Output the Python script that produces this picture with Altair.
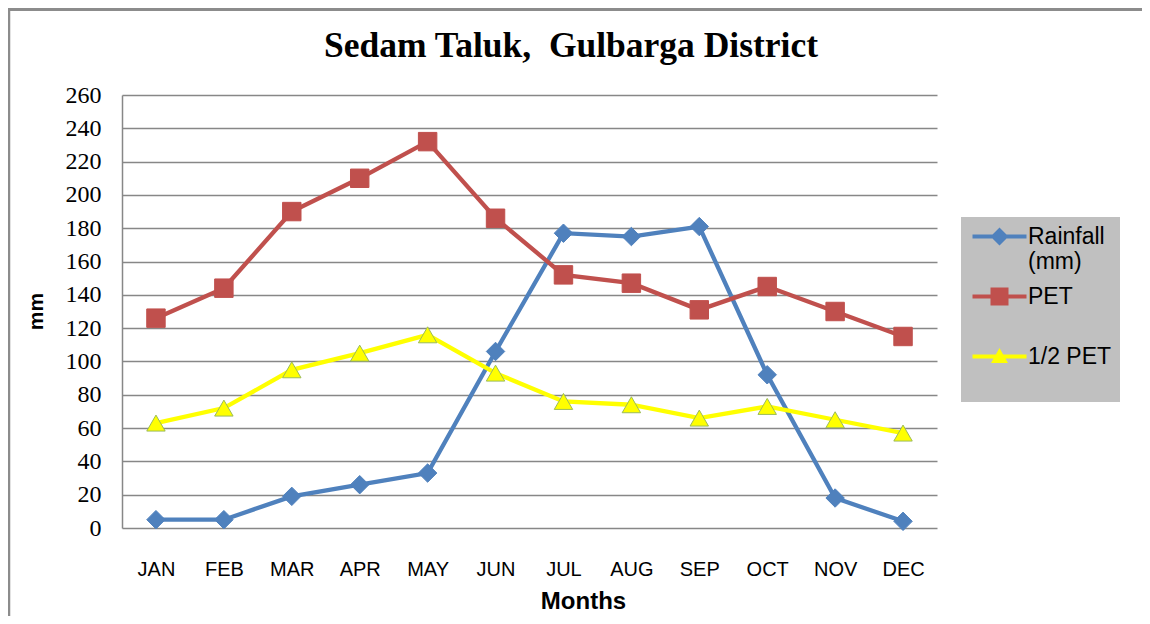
import altair as alt
import pandas as pd

# ---- data ----
title_text = ["Sedam Taluk,\u00a0 Gulbarga District"]
months = ["JAN", "FEB", "MAR", "APR", "MAY", "JUN", "JUL", "AUG", "SEP", "OCT", "NOV", "DEC"]
rainfall = [5, 5, 19, 26, 33, 106, 177, 175, 181, 92, 18, 4]
pet = [126, 144, 190, 210, 232, 186, 152, 147, 131, 145, 130, 115]
half_pet = [63, 72, 95, 105, 116, 93, 76, 74, 66, 73, 65, 57]
series_names = ["Rainfall (mm)", "PET", "1/2 PET"]
y_ticks = [0, 20, 40, 60, 80, 100, 120, 140, 160, 180, 200, 220, 240, 260]

colors = ["#4f81bd", "#c0504d", "#ffff00"]
stroke_colors = ["#4f81bd", "#c0504d", "#9bbb59"]
shapes = ["diamond", "square", "triangle-up"]

# legend symbols: line + marker (unit = half symbol size)
legend_paths = [
    "M-1,-0.2L4.4,-0.2L4.4,0.2L-1,0.2Z M1.7,-0.9L2.6,0L1.7,0.9L0.8,0Z",
    "M-1,-0.2L4.4,-0.2L4.4,0.2L-1,0.2Z M0.8,-0.9L2.6,-0.9L2.6,0.9L0.8,0.9Z",
    "M-1,-0.2L4.4,-0.2L4.4,0.2L-1,0.2Z M1.7,-0.85L2.55,0.65L0.85,0.65Z",
]

rows = []
for name, vals in zip(series_names, [rainfall, pet, half_pet]):
    for m, v in zip(months, vals):
        rows.append({"month": m, "value": v, "series": name, "lseries": name})
df = pd.DataFrame(rows)

FONT_SANS = "Liberation Sans"
FONT_SERIF = "Liberation Serif"

x_enc = alt.X(
    "month:N",
    sort=months,
    scale=alt.Scale(padding=0.5),
    axis=alt.Axis(
        title="Months",
        labelAngle=0,
        labelFont=FONT_SANS,
        labelFontSize=20,
        labelColor="#000000",
        labelPadding=31,
        ticks=False,
        tickSize=0,
        domain=False,
        grid=False,
        titleFont=FONT_SANS,
        titleFontSize=24,
        titleFontWeight="bold",
        titleColor="#000000",
        titleX=461,
        titleY=80,
        titleBaseline="alphabetic",
        titleAlign="center",
    ),
)
y_enc = alt.Y(
    "value:Q",
    scale=alt.Scale(domain=[0, 260], nice=False),
    axis=alt.Axis(
        title="mm",
        values=y_ticks,
        labelFont=FONT_SERIF,
        labelFontSize=24,
        labelColor="#000000",
        labelPadding=21,
        ticks=False,
        tickSize=0,
        domain=True,
        domainColor="#878787",
        domainWidth=1.5,
        grid=True,
        gridColor="#878787",
        gridWidth=1.5,
        titleFont=FONT_SANS,
        titleFontSize=21,
        titleFontWeight="bold",
        titleColor="#000000",
        titleX=-80,
        titleY=216,
        titleBaseline="alphabetic",
        titleAngle=270,
    ),
)

base = alt.Chart(df)

lines = base.mark_line(strokeWidth=4.3).encode(
    x=x_enc,
    y=y_enc,
    color=alt.Color("series:N", scale=alt.Scale(domain=series_names, range=colors), legend=None),
    detail="series:N",
)

points = base.mark_point(filled=True, opacity=1, size=340, strokeWidth=1).encode(
    x=x_enc,
    y=y_enc,
    color=alt.Color("series:N", scale=alt.Scale(domain=series_names, range=colors), legend=None),
    stroke=alt.Stroke("series:N", scale=alt.Scale(domain=series_names, range=stroke_colors), legend=None),
    shape=alt.Shape("series:N", scale=alt.Scale(domain=series_names, range=shapes), legend=None),
)

leg = dict(
    orient="none",
    legendX=839,
    legendY=122,
    title=None,
    fillColor="#c0c0c0",
    padding=8,
    symbolOffset=2,
    labelOffset=34,
    labelFont=FONT_SANS,
    labelFontSize=23,
    labelColor="#000000",
    rowPadding=11,
    symbolSize=400,
    symbolStrokeWidth=0,
    labelExpr="datum.label == 'Rainfall (mm)' ? ['Rainfall', '(mm)'] : [datum.label, ' ']",
)

legend_layer = (
    base.transform_filter("datum.value < 0")
    .mark_point(filled=True, opacity=1)
    .encode(
        color=alt.Color("lseries:N", scale=alt.Scale(domain=series_names, range=colors), legend=alt.Legend(**leg)),
        shape=alt.Shape("lseries:N", scale=alt.Scale(domain=series_names, range=legend_paths), legend=alt.Legend(**leg)),
    )
)

title_df = pd.DataFrame({"t": title_text})
title_layer = alt.Chart(title_df).mark_text(
    font=FONT_SERIF, fontSize=35.5, fontWeight="bold", color="#000000", baseline="alphabetic", align="center"
).encode(text="t:N", x=alt.value(449), y=alt.value(-38))

frame_df = pd.DataFrame({"k": [0]})
top_border = alt.Chart(frame_df).mark_rule(color="#8c8c8c", strokeWidth=3).encode(
    x=alt.value(-114), x2=alt.value(1030), y=alt.value(-85.5)
)
left_border = alt.Chart(frame_df).mark_rule(color="#8c8c8c", strokeWidth=2.5).encode(
    x=alt.value(-113), y=alt.value(-87), y2=alt.value(530)
)

chart = (
    alt.layer(lines, points, legend_layer, title_layer, top_border, left_border)
    .resolve_scale(color="independent", shape="independent", stroke="independent")
    .properties(
        width=815,
        height=433,
        autosize=alt.AutoSizeParams(type="none"),
        padding={"left": 114, "top": 87, "right": 205, "bottom": 88},
        background="#ffffff",
    )
    .configure_view(fill="#c0c0c0", stroke=None)
    .configure_axisY(labelFont=FONT_SERIF)
)

chart.save("out.html", embed_options={"renderer": "svg", "actions": False})
